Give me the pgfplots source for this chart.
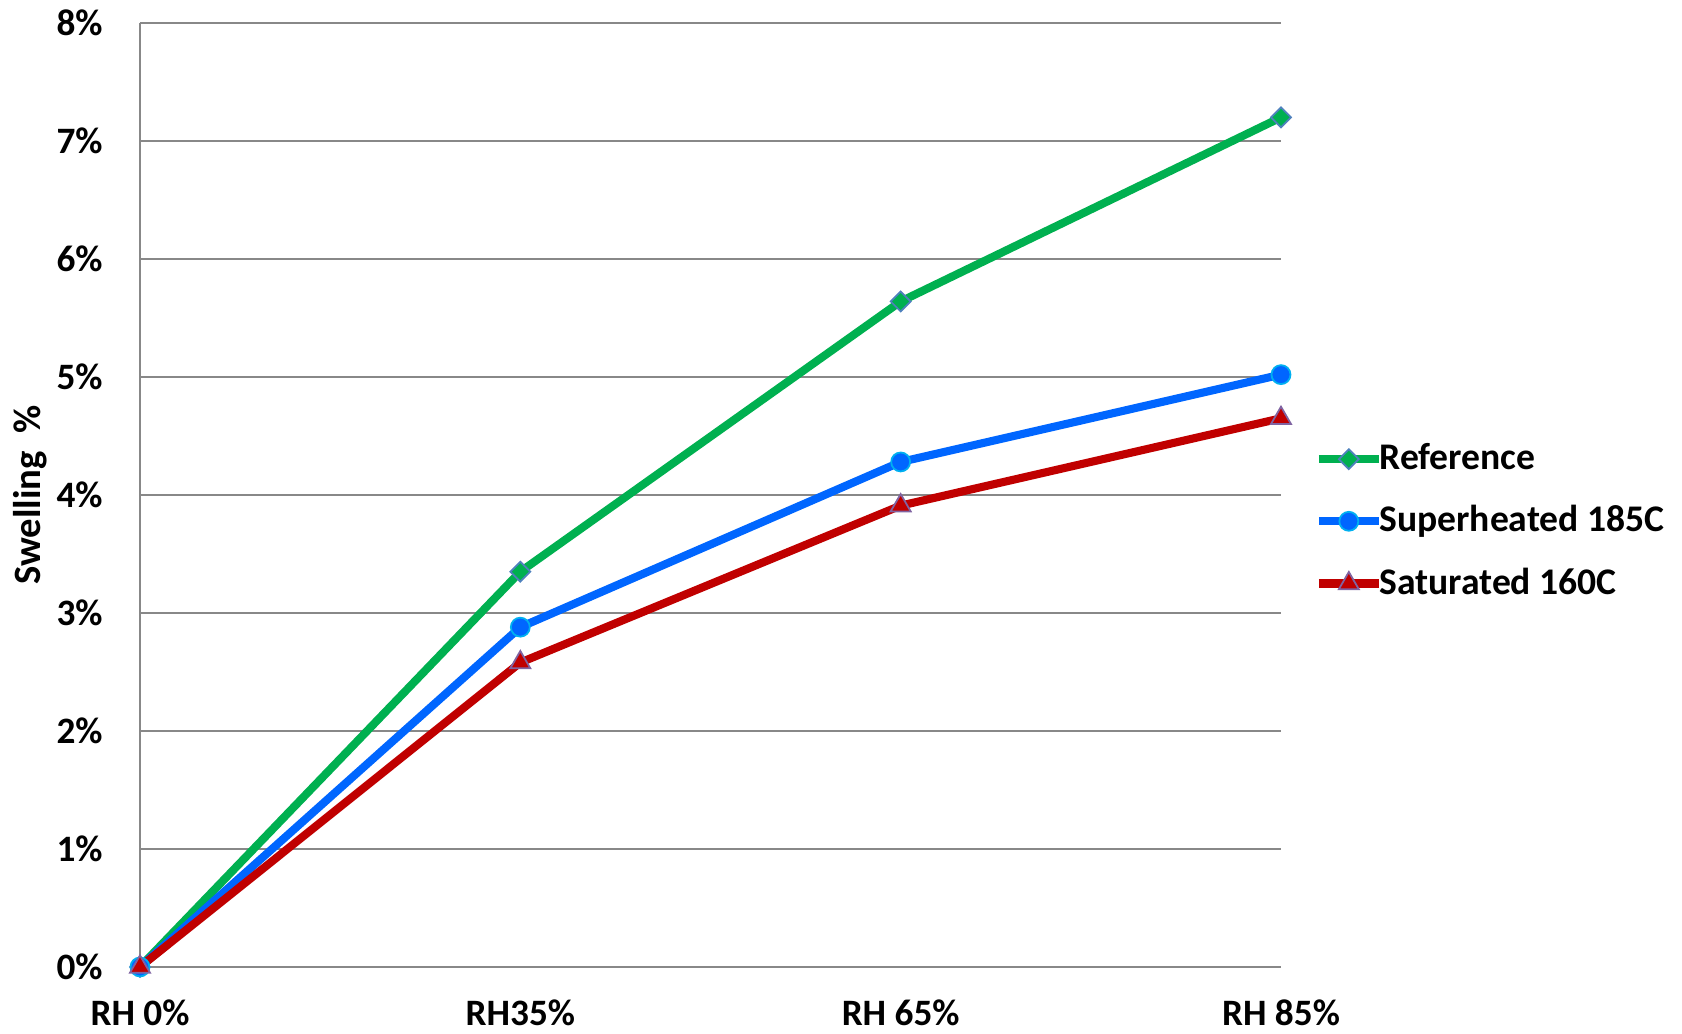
\documentclass[border=0pt]{standalone}
\usepackage{pgfplots}
\pgfplotsset{compat=1.18}
\usepackage{fontspec}
\setmainfont{Carlito}

\definecolor{refgreen}{HTML}{00B050}
\definecolor{supblue}{HTML}{0066FF}
\definecolor{satred}{HTML}{C00000}
\definecolor{gridgray}{HTML}{888888}
\definecolor{edgeblue}{HTML}{4F81BD}
\definecolor{edgecyan}{HTML}{00B0F0}
\definecolor{edgepurple}{HTML}{8064A2}

\begin{document}
\begin{tikzpicture}
% picture frame: 1 px of the reference = 0.1 mm
\useasboundingbox (-14mm,-6.7mm) rectangle (154.2mm,96.7mm);
\begin{axis}[
    at={(0,0)}, anchor=south west,
    scale only axis,
    width=114.1mm, height=94.4mm,
    xmin=0, xmax=3, ymin=0, ymax=8,
    xtick={0,1,2,3},
    xticklabels={RH 0\%, RH35\%, RH 65\%, RH 85\%},
    ytick={0,1,...,8},
    yticklabels={0\%,1\%,2\%,3\%,4\%,5\%,6\%,7\%,8\%},
    axis x line*=bottom, axis y line*=left,
    axis line style={gridgray, line width=0.6pt, -},
    major tick length=0pt,
    ymajorgrids,
    grid style={gridgray, line width=0.6pt},
    tick label style={font=\fontsize{10.6}{12}\selectfont\bfseries},
    yticklabel style={xshift=-2.5mm},
    xticklabel style={yshift=-2mm},
    ylabel={Swelling \ \%},
    ylabel style={font=\fontsize{11}{13}\selectfont\bfseries,
        at={(axis description cs:-0.0964,0.5)}, anchor=center},
    clip=false,
    legend style={at={(axis description cs:1.029,0.472)}, anchor=west,
        draw=none, fill=none, inner sep=0pt, row sep=7.7pt, column sep=-1.5pt,
        nodes={inner sep=0.5pt},
        font=\fontsize{10.7}{12}\selectfont\bfseries},
    legend cell align=left,
]
\addplot[refgreen, line width=2.3pt, mark=square*,
    mark options={rotate=45, fill=refgreen, draw=edgeblue, line width=0.5pt, mark size=2pt}]
    coordinates {(0,0) (1,3.35) (2,5.64) (3,7.20)};
\addlegendentry{Reference}
\addplot[supblue, line width=2.3pt, mark=*,
    mark options={fill=supblue, draw=edgecyan, line width=0.5pt, mark size=2.7pt}]
    coordinates {(0,0) (1,2.88) (2,4.28) (3,5.02)};
\addlegendentry{Superheated 185C}
\addplot[satred, line width=2.3pt, mark=triangle*,
    mark options={fill=satred, draw=edgepurple, line width=0.5pt, mark size=3.3pt}]
    coordinates {(0,0) (1,2.58) (2,3.91) (3,4.65)};
\addlegendentry{Saturated 160C}
\end{axis}
\end{tikzpicture}
\end{document}
